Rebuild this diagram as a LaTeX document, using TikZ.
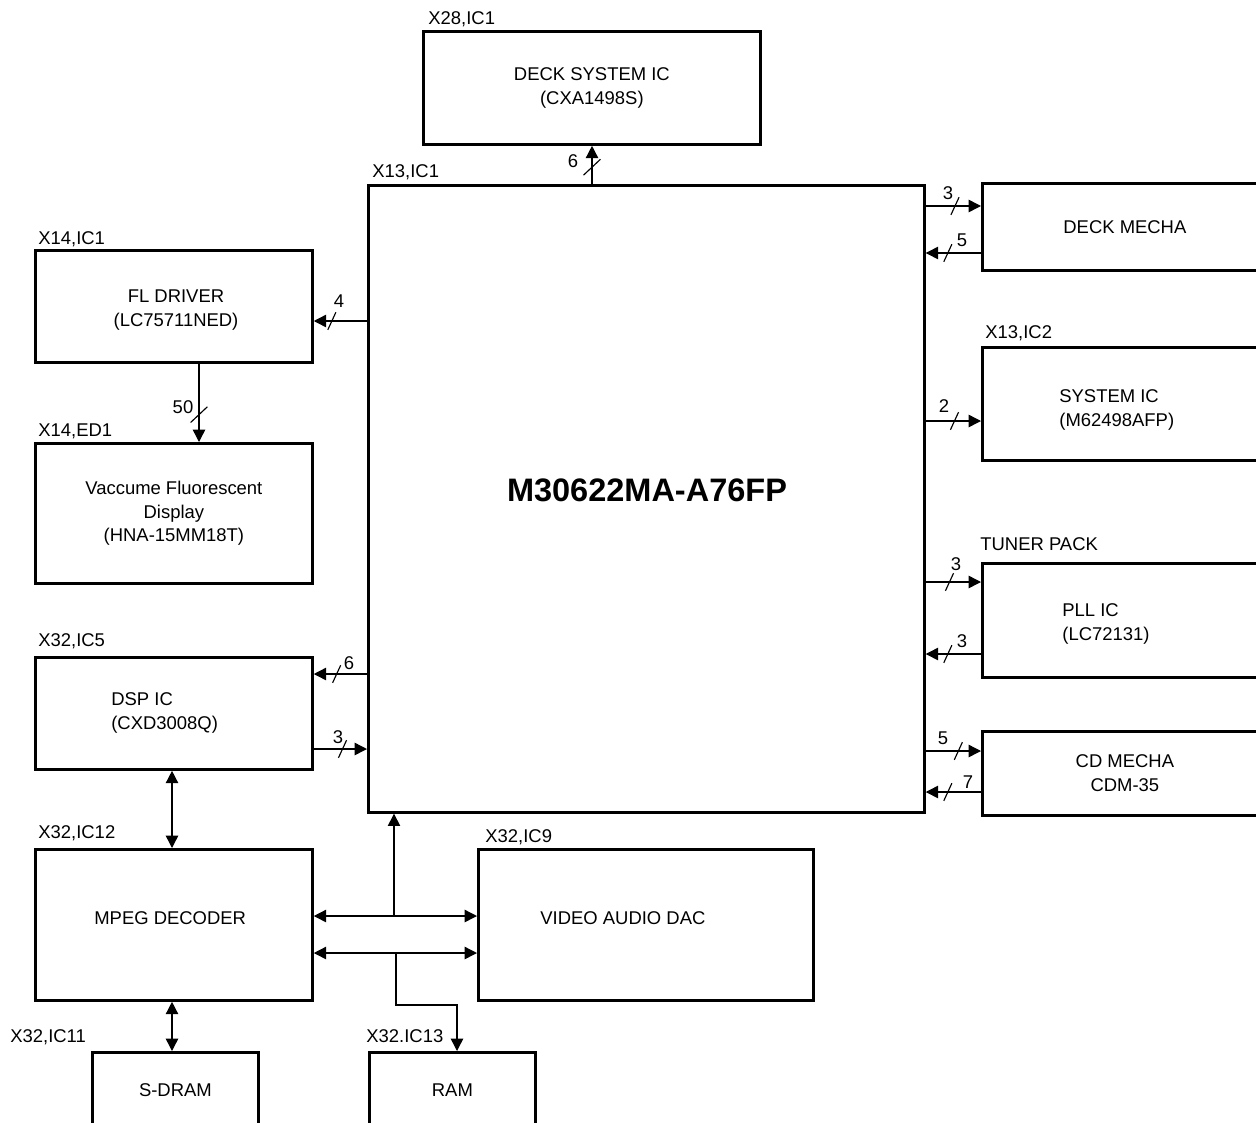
\documentclass[tikz,border=0pt]{standalone}
\usepackage{fontspec}
\setmainfont{Liberation Sans}
\usetikzlibrary{arrows.meta}

\begin{document}
\begin{tikzpicture}[x=0.02cm,y=-0.02cm,
  box/.style={draw,line width=1.6pt,anchor=north west,inner sep=0pt,align=center,font=\fontsize{10.5}{13.5}\selectfont},
  txt/.style={inner sep=0pt,align=left,font=\fontsize{10.5}{13.5}\selectfont},
  tag/.style={inner sep=0pt,anchor=base west,font=\fontsize{10.5}{13.5}\selectfont},
  num/.style={inner sep=0pt,font=\fontsize{10.5}{13.5}\selectfont},
  sig/.style={line width=0.8pt,-{Triangle[length=7pt,width=7pt]}},
  bisig/.style={line width=0.8pt,{Triangle[length=7pt,width=7pt]}-{Triangle[length=7pt,width=7pt]}},
  hbus/.pic={\draw[line width=0.65pt] (-2.3pt,-5pt) -- (2.3pt,5pt);},
  vbus/.pic={\draw[line width=0.65pt] (-4.8pt,-4.5pt) -- (4.8pt,4.5pt);}]
\useasboundingbox (0,0) rectangle (1256,1122);
\clip (0,0) rectangle (1256,1122);
\newcommand{\titlefont}{\fontsize{18.5}{22}\selectfont\bfseries}
  \node[box,minimum width=6.74cm,minimum height=2.26cm] (deck) at (422,30) {DECK SYSTEM IC\\(CXA1498S)};
  \node[box,minimum width=11.12cm,minimum height=12.54cm] (main) at (367,184) {};
  \node[box,minimum width=5.7cm,minimum height=1.74cm] (deckmecha) at (981,182) {DECK MECHA};
  \node[box,minimum width=5.7cm,minimum height=2.26cm] (sysic) at (981,346) {};
  \node[box,minimum width=5.7cm,minimum height=2.28cm] (pll) at (981,562) {};
  \node[box,minimum width=5.7cm,minimum height=1.68cm] (cdmecha) at (981,730) {CD MECHA\\CDM-35};
  \node[box,minimum width=5.54cm,minimum height=2.24cm] (fl) at (34,249) {};
  \node[box,minimum width=5.54cm,minimum height=2.8cm] (vfd) at (34,442) {Vaccume Fluorescent\\Display\\(HNA-15MM18T)};
  \node[box,minimum width=5.54cm,minimum height=2.24cm] (dsp) at (34,656) {};
  \node[box,minimum width=5.54cm,minimum height=3.02cm] (mpeg) at (34,848) {};
  \node[box,minimum width=6.7cm,minimum height=3.02cm] (dac) at (477,848) {};
  \node[box,minimum width=3.32cm,minimum height=1.5cm] (sdram) at (91,1051) {S-DRAM};
  \node[box,minimum width=3.32cm,minimum height=1.5cm] (ram) at (368,1051) {RAM};
  \node[txt,font=\titlefont] (main-t) at (647,490) {M30622MA-A76FP};
  \node[txt,align=center] (fl-t) at (176,310) {FL DRIVER\\(LC75711NED)};
  \node[txt,anchor=west] (sysic-t) at (1059,410) {SYSTEM IC\\(M62498AFP)};
  \node[txt,anchor=west] (pll-t) at (1062,624) {PLL IC\\(LC72131)};
  \node[txt,anchor=west] (dsp-t) at (111,713) {DSP IC\\(CXD3008Q)};
  \node[txt,anchor=west] (mpeg-t) at (94,918) {MPEG DECODER};
  \node[txt,anchor=west] (dac-t) at (540,918) {VIDEO AUDIO DAC};
  \node[tag] (deck-l) at (428,24.5) {X28,IC1};
  \node[tag] (main-l) at (372,177.5) {X13,IC1};
  \node[tag] (fl-l) at (38,244.5) {X14,IC1};
  \node[tag] (vfd-l) at (38,436.5) {X14,ED1};
  \node[tag] (sysic-l) at (985,338.5) {X13,IC2};
  \node[tag] (pll-l) at (980,550.5) {TUNER PACK};
  \node[tag] (dsp-l) at (38,646.5) {X32,IC5};
  \node[tag] (mpeg-l) at (38,838.5) {X32,IC12};
  \node[tag] (dac-l) at (485,842.5) {X32,IC9};
  \node[tag] (sdram-l) at (10,1042.5) {X32,IC11};
  \node[tag] (ram-l) at (366,1042.5) {X32.IC13};
  \draw[sig] (main.north -| 592,0) -- coordinate[pos=0.44] (b1) (deck.south -| 592,0);
  \draw[sig] (main.east |- 0,206) -- coordinate[pos=0.53] (b2) (deckmecha.west |- 0,206);
  \draw[sig] (deckmecha.west |- 0,253) -- coordinate[pos=0.6] (b3) (main.east |- 0,253);
  \draw[sig] (main.east |- 0,421) -- coordinate[pos=0.52] (b4) (sysic.west |- 0,421);
  \draw[sig] (main.east |- 0,582) -- coordinate[pos=0.43] (b5) (pll.west |- 0,582);
  \draw[sig] (pll.west |- 0,654) -- coordinate[pos=0.6] (b6) (main.east |- 0,654);
  \draw[sig] (main.east |- 0,751) -- coordinate[pos=0.59] (b7) (cdmecha.west |- 0,751);
  \draw[sig] (cdmecha.west |- 0,792) -- coordinate[pos=0.6] (b8) (main.east |- 0,792);
  \draw[sig] (main.west |- 0,321) -- coordinate[pos=0.66] (b9) (fl.east |- 0,321);
  \draw[sig] (main.west |- 0,674) -- coordinate[pos=0.57] (b10) (dsp.east |- 0,674);
  \draw[sig] (dsp.east |- 0,749) -- coordinate[pos=0.54] (b11) (main.west |- 0,749);
  \draw[sig] (fl.south -| 199,0) -- coordinate[pos=0.65] (b12) (vfd.north -| 199,0);
  \pic at (b1) {vbus}; \pic at (b12) {vbus};
  \foreach \b in {b2,b3,b4,b5,b6,b7,b8,b9,b10,b11} \pic at (\b) {hbus};
  \node[num] (n1) at (573,161) {6};
  \node[num] (n2) at (948,193) {3};
  \node[num] (n3) at (962,240) {5};
  \node[num] (n4) at (944,406) {2};
  \node[num] (n5) at (956,564) {3};
  \node[num] (n6) at (962,641) {3};
  \node[num] (n7) at (943,738) {5};
  \node[num] (n8) at (968,782) {7};
  \node[num] (n9) at (339,301) {4};
  \node[num] (n10) at (349,663) {6};
  \node[num] (n11) at (338,737) {3};
  \node[num] (n12) at (183,407) {50};
  \draw[bisig] (dsp.south -| 172,0) -- (mpeg.north -| 172,0);
  \draw[bisig] (mpeg.south -| 172,0) -- (sdram.north -| 172,0);
  \draw[bisig] (mpeg.east |- 0,916) -- coordinate (j1) (dac.west |- 0,916);
  \draw[bisig] (mpeg.east |- 0,953) -- coordinate (j2) (dac.west |- 0,953);
  \draw[sig] (j1 -| 394,0) -- (main.south -| 394,0);
  \draw[sig] (j2 -| 396,0) -- (396,1005) -| (ram.north -| 457,0);
\end{tikzpicture}
\end{document}
